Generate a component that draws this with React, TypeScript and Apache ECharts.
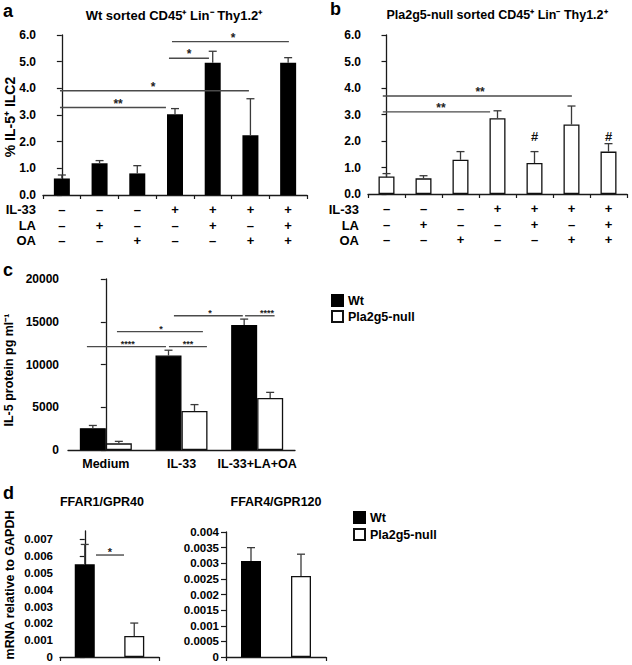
import React, { useEffect, useRef } from 'react';
import * as echarts from 'echarts';

const FONT = '"Liberation Sans", Arial, Helvetica, sans-serif';

// ---------- panel a / b : treatment table ----------
const ROW_LABELS = ['IL-33', 'LA', 'OA'];
const IL33 = ['–', '–', '–', '+', '+', '+', '+'];
const LA = ['–', '+', '–', '–', '+', '–', '+'];
const OA = ['–', '–', '+', '–', '–', '+', '+'];
const TREATMENTS = IL33.map((_, i) => `${IL33[i]}\n${LA[i]}\n${OA[i]}`);

// panel a (Wt sorted)
const A_VALUES = [0.62, 1.19, 0.81, 3.03, 4.96, 2.24, 4.96];
const A_ERR_TOP = [0.75, 1.29, 1.1, 3.24, 5.39, 3.61, 5.15];
const SIG_A = [
  { x1: -0.05, x2: 2.76, y: 3.28, label: '**', lx: 1.49 },
  { x1: -0.05, x2: 4.96, y: 3.91, label: '*', lx: 2.42 },
  { x1: 2.84, x2: 3.9, y: 5.13, label: '*', lx: 3.37 },
  { x1: 2.92, x2: 6.02, y: 5.75, label: '*', lx: 4.54 },
];

// panel b (Pla2g5-null sorted)
const B_VALUES = [0.66, 0.59, 1.29, 2.86, 1.17, 2.62, 1.6];
const B_ERR_TOP = [0.77, 0.69, 1.6, 3.14, 1.6, 3.32, 1.9];
const B_MARKS = ['', '', '', '', '#', '', '#'];
const B_MARK_Y = 2.16;
const SIG_B = [
  { x1: -0.1, x2: 2.8, y: 3.1, label: '**', lx: 1.47 },
  { x1: -0.1, x2: 5.01, y: 3.7, label: '**', lx: 2.53 },
];

// panel c (IL-5 protein)
const C_CATEGORIES = ['Medium', 'IL-33', 'IL-33+LA+OA'];
const C_WT = [2550, 11050, 14610];
const C_WT_ERR_TOP = [2870, 11670, 15310];
const C_NULL = [780, 4570, 6090];
const C_NULL_ERR_TOP = [1010, 5310, 6740];
const SIG_C = [
  { x1: -0.25, x2: 0.795, y: 12090, label: '****', lx: 0.29 },
  { x1: 0.834, x2: 1.336, y: 12090, label: '***', lx: 1.085 },
  { x1: 0.147, x2: 1.283, y: 13840, label: '*', lx: 0.73 },
  { x1: 0.9, x2: 1.81, y: 15700, label: '*', lx: 1.376 },
  { x1: 1.84, x2: 2.23, y: 15700, label: '****', lx: 2.13 },
];

// panel d (mRNA)
const D_GROUPS = ['Wt', 'Pla2g5-null'];
const D1_VALUES = [0.00552, 0.00125];
const D1_ERR_TOP = [0.0067, 0.00202];
const D2_VALUES = [0.00307, 0.00259];
const D2_ERR_TOP = [0.0035, 0.00329];
const SIG_D1 = [{ x1: 0.227, x2: 0.793, y: 0.00607, label: '*', lx: 0.51 }];
const D1_TICKS = [0, 0.001, 0.002, 0.003, 0.004, 0.005, 0.006, 0.007];

const AXIS_COLOR = '#1a1a1a';
const ERR_COLOR = '#3a3a3a';
const SIG_COLOR = '#4a4a4a';

function errorSeries(name: string, xAxisIndex: number, yAxisIndex: number, vals: number[], tops: number[], offset: number) {
  return {
    type: 'custom',
    name,
    xAxisIndex,
    yAxisIndex,
    z: 5,
    silent: true,
    data: vals.map((v, i) => [i, v, tops[i]]),
    encode: { x: 0, y: [1, 2] },
    renderItem: (params: any, api: any) => {
      const idx = api.value(0);
      const p0 = api.coord([idx, api.value(1)]);
      const p1 = api.coord([idx, api.value(2)]);
      const cx = p0[0] + offset;
      return {
        type: 'group',
        children: [
          { type: 'line', shape: { x1: cx, y1: p0[1], x2: cx, y2: p1[1] }, style: { stroke: ERR_COLOR, lineWidth: 1.3 } },
          { type: 'line', shape: { x1: cx - 4, y1: p1[1], x2: cx + 4, y2: p1[1] }, style: { stroke: ERR_COLOR, lineWidth: 1.3 } },
        ],
      };
    },
  };
}

function sigSeries(name: string, xAxisIndex: number, yAxisIndex: number, sigs: any[], fontSize: number) {
  return {
    type: 'custom',
    name,
    xAxisIndex,
    yAxisIndex,
    z: 6,
    silent: true,
    data: sigs.map((s) => [s.x1, s.x2, s.y, s.lx]),
    encode: { x: [0, 1], y: 2 },
    renderItem: (params: any, api: any) => {
      const s = sigs[params.dataIndex];
      const p1 = api.coord([api.value(0), api.value(2)]);
      const p2 = api.coord([api.value(1), api.value(2)]);
      const pl = api.coord([api.value(3), api.value(2)]);
      return {
        type: 'group',
        children: [
          { type: 'line', shape: { x1: p1[0], y1: p1[1], x2: p2[0], y2: p2[1] }, style: { stroke: SIG_COLOR, lineWidth: 1.4 } },
          {
            type: 'text',
            x: pl[0],
            y: pl[1] + 2,
            style: { text: s.label, align: 'center', verticalAlign: 'bottom', fontSize, fontWeight: 'bold', fontFamily: FONT, fill: '#222' },
          },
        ],
      };
    },
  };
}

const yLabel = (size: number, margin: number, fmt: (v: number) => string) => ({
  fontFamily: FONT,
  fontWeight: 'bold',
  fontSize: size,
  color: '#000',
  margin,
  formatter: fmt,
});

const axisLine = { show: true, lineStyle: { color: AXIS_COLOR, width: 1.3 } };
const yTick = { show: true, inside: false, length: 5, lineStyle: { color: AXIS_COLOR, width: 1.2 } };
const xTick = { show: true, inside: false, length: 4, lineStyle: { color: AXIS_COLOR, width: 1.2 } };

const fmtSmall = (v: number) => {
  if (v === 0) return '0';
  return String(parseFloat(v.toFixed(6)));
};

export default function App() {
  const ref = useRef<HTMLDivElement>(null);
  useEffect(() => {
    if (!ref.current) return;
    const chart = echarts.init(ref.current, undefined, { renderer: 'svg' });
    const txt = (text: string, x: number, y: number, size: number, align = 'center', extra: any = {}) => ({
      type: 'text',
      x,
      y,
      ...extra,
      style: { text, fontFamily: FONT, fontWeight: 'bold', fontSize: size, fill: '#000', align, verticalAlign: 'middle' },
    });
    const option: any = {
      animation: false,
      backgroundColor: '#fff',
      grid: [
        { left: 43, top: 35, width: 264, height: 160 },
        { left: 368, top: 35, width: 259, height: 159 },
        { left: 68, top: 279, width: 227, height: 171 },
        { left: 60, top: 531, width: 99, height: 126 },
        { left: 226, top: 532, width: 100, height: 125 },
      ],
      xAxis: [
        {
          type: 'category', gridIndex: 0, data: TREATMENTS,
          axisLine, axisTick: xTick,
          axisLabel: { fontFamily: FONT, fontWeight: 'bold', fontSize: 13, color: '#000', lineHeight: 15.5, margin: 7, interval: 0 },
        },
        { type: 'value', gridIndex: 0, min: -0.5, max: 6.5, show: false },
        {
          type: 'category', gridIndex: 1, data: TREATMENTS,
          axisLine, axisTick: xTick,
          axisLabel: { fontFamily: FONT, fontWeight: 'bold', fontSize: 13, color: '#000', lineHeight: 15.5, margin: 7, interval: 0 },
        },
        { type: 'value', gridIndex: 1, min: -0.5, max: 6.5, show: false },
        {
          type: 'category', gridIndex: 2, data: C_CATEGORIES,
          axisLine, axisTick: { show: false },
          axisLabel: { fontFamily: FONT, fontWeight: 'bold', fontSize: 12.5, color: '#000', margin: 7, interval: 0 },
        },
        { type: 'value', gridIndex: 2, min: -0.5, max: 2.5, show: false },
        { type: 'category', gridIndex: 3, data: D_GROUPS, axisLine, axisTick: xTick, axisLabel: { show: false } },
        { type: 'value', gridIndex: 3, min: -0.5, max: 1.5, show: false },
        { type: 'category', gridIndex: 4, data: D_GROUPS, axisLine, axisTick: xTick, axisLabel: { show: false } },
      ],
      yAxis: [
        { type: 'value', gridIndex: 0, min: 0, max: 6, interval: 1, axisLine, axisTick: yTick, splitLine: { show: false }, axisLabel: yLabel(12, 7, (v) => v.toFixed(1)) },
        { type: 'value', gridIndex: 1, min: 0, max: 6, interval: 1, axisLine, axisTick: yTick, splitLine: { show: false }, axisLabel: yLabel(12, 7, (v) => v.toFixed(1)) },
        { type: 'value', gridIndex: 2, min: 0, max: 20000, interval: 5000, axisLine, axisTick: yTick, splitLine: { show: false }, axisLabel: yLabel(12, 9, (v) => String(v)) },
        {
          type: 'value', gridIndex: 3, min: 0, max: 0.0075, interval: 0.001, axisLine,
          axisTick: { ...yTick, customValues: D1_TICKS }, splitLine: { show: false },
          axisLabel: { ...yLabel(11.5, 7, (v) => (Math.abs(v - 0.0075) < 1e-9 ? '' : fmtSmall(v))), customValues: D1_TICKS },
        },
        { type: 'value', gridIndex: 4, min: 0, max: 0.004, interval: 0.0005, axisLine, axisTick: yTick, splitLine: { show: false }, axisLabel: yLabel(11.5, 7, fmtSmall) },
      ],
      legend: [
        {
          left: 326, top: 289, orient: 'vertical', icon: 'rect', itemWidth: 11, itemHeight: 11, itemGap: 3, selectedMode: false,
          data: ['Wt', 'Pla2g5-null'], textStyle: { fontFamily: FONT, fontWeight: 'bold', fontSize: 12.5, color: '#000' },
        },
        {
          left: 348, top: 506, orient: 'vertical', icon: 'rect', itemWidth: 11, itemHeight: 11, itemGap: 4, selectedMode: false,
          data: ['Wt', 'Pla2g5-null'], textStyle: { fontFamily: FONT, fontWeight: 'bold', fontSize: 12.5, color: '#000' },
        },
      ],
      series: [
        // panel a
        { type: 'bar', name: 'a', xAxisIndex: 0, yAxisIndex: 0, data: A_VALUES, barWidth: 16, itemStyle: { color: '#000' } },
        errorSeries('a-err', 0, 0, A_VALUES, A_ERR_TOP, 0),
        sigSeries('a-sig', 1, 0, SIG_A, 12),
        // panel b
        { type: 'bar', name: 'b', xAxisIndex: 2, yAxisIndex: 1, data: B_VALUES, barWidth: 16, itemStyle: { color: '#fff', borderColor: '#111', borderWidth: 1.3 } },
        errorSeries('b-err', 2, 1, B_VALUES, B_ERR_TOP, 0),
        sigSeries('b-sig', 3, 1, SIG_B, 12),
        {
          type: 'custom', name: 'b-mark', xAxisIndex: 2, yAxisIndex: 1, silent: true, z: 6,
          data: B_MARKS.map((m, i) => [i, B_MARK_Y]).filter((_, i) => B_MARKS[i] !== ''),
          renderItem: (params: any, api: any) => {
            const p = api.coord([api.value(0), api.value(1)]);
            return { type: 'text', x: p[0], y: p[1], style: { text: '#', align: 'center', verticalAlign: 'middle', fontSize: 13, fontWeight: 'bold', fontFamily: FONT, fill: '#111' } };
          },
        },
        // panel c
        { type: 'bar', name: 'Wt', xAxisIndex: 4, yAxisIndex: 2, data: C_WT, barWidth: 26, barGap: '0%', itemStyle: { color: '#000', borderColor: '#000', borderWidth: 1.3 } },
        { type: 'bar', name: 'Pla2g5-null', xAxisIndex: 4, yAxisIndex: 2, data: C_NULL, barWidth: 26, barGap: '0%', itemStyle: { color: '#fff', borderColor: '#111', borderWidth: 1.3 } },
        errorSeries('c-err-wt', 4, 2, C_WT, C_WT_ERR_TOP, -13),
        errorSeries('c-err-null', 4, 2, C_NULL, C_NULL_ERR_TOP, 13),
        sigSeries('c-sig', 5, 2, SIG_C, 9),
        // panel d1
        { type: 'bar', name: 'Wt', xAxisIndex: 6, yAxisIndex: 3, data: [D1_VALUES[0], '-'], barWidth: 20, barGap: '-100%', itemStyle: { color: '#000', borderColor: '#000', borderWidth: 1.3 } },
        { type: 'bar', name: 'Pla2g5-null', xAxisIndex: 6, yAxisIndex: 3, data: ['-', D1_VALUES[1]], barWidth: 20, barGap: '-100%', itemStyle: { color: '#fff', borderColor: '#111', borderWidth: 1.3 } },
        errorSeries('d1-err', 6, 3, D1_VALUES, D1_ERR_TOP, 0),
        sigSeries('d1-sig', 7, 3, SIG_D1, 11),
        // panel d2
        { type: 'bar', name: 'Wt', xAxisIndex: 8, yAxisIndex: 4, data: [D2_VALUES[0], '-'], barWidth: 20, barGap: '-100%', itemStyle: { color: '#000', borderColor: '#000', borderWidth: 1.3 } },
        { type: 'bar', name: 'Pla2g5-null', xAxisIndex: 8, yAxisIndex: 4, data: ['-', D2_VALUES[1]], barWidth: 20, barGap: '-100%', itemStyle: { color: '#fff', borderColor: '#111', borderWidth: 1.3 } },
        errorSeries('d2-err', 8, 4, D2_VALUES, D2_ERR_TOP, 0),
      ],
      graphic: [
        txt('a', 3, 11, 18, 'left'),
        txt('b', 330, 9, 18, 'left'),
        txt('c', 3, 270, 18, 'left'),
        txt('d', 3, 493, 18, 'left'),
        txt('Wt sorted CD45⁺ Lin⁻ Thy1.2⁺', 174, 15, 13),
        txt('Pla2g5-null sorted CD45⁺ Lin⁻ Thy1.2⁺', 497, 15, 12.5),
        txt('FFAR1/GPR40', 102, 502, 12.5),
        txt('FFAR4/GPR120', 276, 502, 12.5),
        txt('% IL-5⁺ ILC2', 10, 117, 14, 'center', { rotation: Math.PI / 2 }),
        txt('IL-5 protein pg ml⁻¹', 9, 370, 12.5, 'center', { rotation: Math.PI / 2 }),
        txt('mRNA relative to GAPDH', 10, 585, 12.5, 'center', { rotation: Math.PI / 2 }),
        ...ROW_LABELS.map((t, i) => txt(t, 36, 209.5 + i * 15.5, 13, 'right')),
        ...ROW_LABELS.map((t, i) => txt(t, 359, 209.5 + i * 15.5, 13, 'right')),
      ],
    };
    chart.setOption(option);
    return () => chart.dispose();
  }, []);
  return <div ref={ref} style={{ position: 'fixed', left: 0, top: 0, width: 632, height: 665, background: '#fff' }} />;
}
